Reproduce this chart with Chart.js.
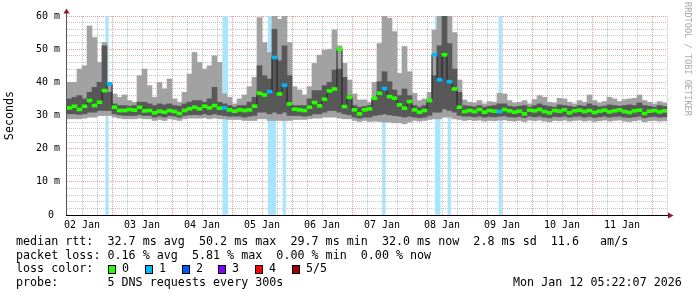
<!DOCTYPE html>
<html>
<head>
<meta charset="utf-8">
<script src="https://cdn.jsdelivr.net/npm/chart.js@4/dist/chart.umd.min.js"></script>
<style>
  html, body { margin: 0; padding: 0; background: #fff; }
  canvas { display: block; }
</style>
</head>
<body>
<canvas id="c" width="697" height="297"></canvas>
<script>
// 2 hour bins starting Jan 2 06:00, values in ms
const hi = [
  40, 40, 44, 45, 57, 53.5, 46, 52, 40, 36.5,
  35.5, 36.2, 34.5, 34, 42, 44, 39, 35.5, 40, 38,
  41, 35, 34, 37, 42.5, 49, 46, 44, 45, 48,
  46, 36.5, 35.5, 33.5, 35, 36.2, 38.7, 41.5, 59.5, 52,
  49, 60, 59, 60, 52, 38.7, 37.7, 36.2, 38.7, 45.7,
  48.2, 49.7, 50, 55.8, 51, 45.7, 40.7, 36.5, 34.7, 34.7,
  34, 40, 51.7, 60, 59.3, 55.3, 42.7, 50.8, 43.2, 36.7,
  34.5, 35, 37, 55.8, 60, 60, 60, 55, 40.7, 34.7,
  34, 33.8, 34.5, 33.5, 34.2, 34, 36.7, 36.5, 34.5, 33.8,
  34, 34.5, 33.5, 34.8, 36, 35.5, 34, 33.8, 35.2, 35,
  34, 33.5, 34.5, 34, 36.2, 34.5, 33.8, 34.2, 35.5, 35,
  34.2, 34.8, 35, 35.2, 36.2, 34.5, 34, 33.5, 34.2, 33.8
];
const q3 = [
  35, 35.5, 36, 35, 37, 38.5, 40, 51, 37, 33.5,
  33, 33, 32.8, 33, 34, 34, 33.5, 33, 33.5, 33.2,
  33.5, 33, 32.8, 33.5, 34, 34.5, 34.5, 34, 35, 38.5,
  34, 33.5, 33, 32.5, 33, 33, 34, 35.5, 45, 42,
  41, 56, 46.5, 51, 42, 33, 33, 33, 35, 37.5,
  37.5, 39, 40, 43.7, 44, 41.5, 36, 33, 32.5, 32.7,
  33, 35, 40.2, 43.2, 40.2, 37.7, 36, 38, 36, 33,
  32.5, 33, 34, 42, 51, 60, 51.7, 44, 37, 33,
  32.8, 32.6, 33, 32.5, 32.8, 33, 33.5, 33.5, 32.8, 32.6,
  32.8, 33, 32.5, 33, 33.5, 33, 32.7, 32.5, 33.2, 33,
  32.8, 32.5, 33, 32.8, 33.5, 33, 32.6, 32.8, 33.2, 33,
  32.8, 33, 33.2, 33, 33.8, 33, 32.8, 32.5, 33, 32.7
];
const med = [
  32.3, 32.8, 31.8, 32.8, 34.5, 33, 34, 37.5, 39.5, 32.5,
  31.5, 31.5, 31.8, 31.6, 32.5, 31.4, 31.5, 30.8, 31.3, 31,
  31.5, 31.2, 30.6, 31.5, 32, 32.5, 32, 32.8, 32.3, 33,
  32.2, 32.3, 31.7, 31.3, 31.7, 31.5, 31.7, 32.8, 36.7, 36.2,
  37.2, 47.5, 36.5, 39.1, 33.5, 31.9, 31.7, 31.5, 32.5, 33.9,
  32.9, 34.9, 37.4, 38, 50, 32.7, 35.5, 31.7, 30.5, 31.7,
  32, 35.2, 36.7, 38.1, 35.7, 35.2, 33.2, 32.2, 34.2, 31.7,
  31, 31.5, 34.5, 48.3, 40.8, 48.3, 40.2, 38, 32.5, 31.2,
  31.5, 31.2, 31.8, 31, 31.5, 31.3, 31.2, 31.8, 31.4, 31,
  31.3, 30.5, 31.6, 31.4, 31.8, 31.2, 30.8, 31.5, 31.3, 31.7,
  30.8, 31.4, 31.6, 31.2, 31.5, 30.9, 31.3, 31.6, 31.1, 31.4,
  31.7, 31.2, 30.9, 31.4, 31.6, 30.6, 31.3, 31.5, 31.1, 31.4
];
const q1 = [
  30.5, 30.5, 30.3, 30.5, 31, 31, 31.5, 31.5, 31.5, 30.5,
  30.2, 30, 30, 30, 30.3, 30, 30, 29.5, 29.8, 29.5,
  30, 29.8, 29.5, 30, 30.2, 30.3, 30.2, 30.5, 30.2, 30.5,
  30.2, 30, 29.8, 29.8, 29.8, 29.5, 29.8, 30, 31, 31,
  30.5, 31, 30.5, 31, 30, 30, 30, 29.8, 30, 30.5,
  30.5, 31, 31.5, 31.5, 31, 30.5, 30.2, 29.5, 29.2, 29.5,
  29.5, 30, 30.2, 30.5, 30.2, 30, 29.8, 29.5, 29.8, 29.5,
  29.3, 29.5, 30, 31, 31, 32, 31.5, 31, 30, 29.8,
  29.8, 29.6, 29.8, 29.5, 29.7, 29.6, 29.8, 29.9, 29.6, 29.5,
  29.7, 29.4, 29.8, 29.6, 29.8, 29.5, 29.3, 29.7, 29.6, 29.8,
  29.5, 29.7, 29.8, 29.5, 29.7, 29.4, 29.6, 29.8, 29.5, 29.7,
  29.8, 29.5, 29.4, 29.6, 29.8, 29.3, 29.6, 29.7, 29.5, 29.6
];
const lo = [
  29, 29, 29, 29.2, 29.5, 29.5, 30, 30, 30, 29.5,
  29.2, 29, 29, 29, 29.2, 29, 29, 28.5, 28.8, 28.5,
  29, 28.8, 28.5, 29, 29.2, 29.2, 29.2, 29.3, 29, 29.2,
  29, 29, 28.8, 28.8, 28.8, 28.5, 28.5, 28.5, 29, 29,
  28.5, 28.5, 28.5, 28.5, 28.5, 28.8, 28.8, 28.8, 29, 29.2,
  29.2, 29.5, 29.5, 29.5, 29.2, 29, 29, 28.5, 28.2, 28.5,
  28.2, 28.3, 28.2, 28, 28, 27.8, 27.8, 27.5, 28, 28.5,
  28.3, 28.5, 28.8, 29, 29, 29.5, 29.5, 29, 28.8, 28.5,
  28.7, 28.5, 28.6, 28.3, 28.5, 28.4, 28.6, 28.7, 28.4, 28.3,
  28.5, 28.2, 28.6, 28.4, 28.6, 28.3, 28.1, 28.5, 28.4, 28.6,
  28.3, 28.5, 28.6, 28.3, 28.5, 28.2, 28.4, 28.6, 28.3, 28.5,
  28.6, 28.3, 28.2, 28.4, 28.6, 28.1, 28.4, 28.5, 28.3, 28.4
];
// hours (from Jan 2 06:00) of probe rounds with packet loss
const lossTimes = [16, 62.8, 63.8, 81, 82, 83, 86.9, 126.8, 147.8, 148.8, 152.9, 173.3];
const dayLabels = ['02 Jan', '03 Jan', '04 Jan', '05 Jan', '06 Jan', '07 Jan', '08 Jan', '09 Jan', '10 Jan', '11 Jan'];
const lossColors = ['#26ff00', '#00b8ff', '#0059ff', '#7e00ff', '#ff0000', '#a10000'];
const lossNames = ['0', '1', '2', '3', '4', '5/5'];

const MONO = '"DejaVu Sans Mono", monospace';
const binHours = 2;
const xs = med.map((_, i) => i * binHours + binHours / 2);
const lossCount = med.map(() => 0);
lossTimes.forEach(t => lossCount[Math.floor(t / binHours)]++);
const medColor = lossCount.map(c => lossColors[Math.min(c, 1)]);

const xGrid = [];
for (let h = 6; h <= 240; h += 6) xGrid.push(h);
const yGrid = [];
for (let v = 0; v <= 60; v += 2) yGrid.push(v);

const minorGrid = 'rgba(110,110,110,0.4)';
const majorGrid = 'rgba(200,40,40,0.45)';

const extras = {
  id: 'extras',
  afterDraw(chart) {
    const ctx = chart.ctx;
    const a = chart.chartArea;
    ctx.save();
    // axes
    ctx.fillStyle = '#555';
    ctx.fillRect(a.left - 1, 13, 1, a.bottom - 13);
    ctx.fillStyle = '#000';
    ctx.fillRect(a.left - 1, a.bottom, a.right - a.left + 2, 1);
    // arrows
    ctx.fillStyle = '#8b1a1a';
    ctx.beginPath();
    ctx.moveTo(a.left - 0.5, 8.5);
    ctx.lineTo(a.left - 3.5, 13.5);
    ctx.lineTo(a.left + 2.5, 13.5);
    ctx.closePath();
    ctx.fill();
    ctx.beginPath();
    ctx.moveTo(a.right + 6.5, a.bottom + 0.5);
    ctx.lineTo(a.right + 1, a.bottom - 2.5);
    ctx.lineTo(a.right + 1, a.bottom + 3.5);
    ctx.closePath();
    ctx.fill();

    // legend / stats text
    ctx.fillStyle = '#000';
    ctx.font = '11.7px ' + MONO;
    ctx.textBaseline = 'middle';
    ctx.textAlign = 'left';
    ctx.fillText('median rtt:  32.7 ms avg  50.2 ms max  29.7 ms min  32.0 ms now  2.8 ms sd  11.6   am/s', 16, 241.5);
    ctx.fillText('packet loss: 0.16 % avg  5.81 % max  0.00 % min  0.00 % now', 16, 255.5);
    ctx.fillText('loss color:', 16, 269.3);
    ctx.fillText('probe:       5 DNS requests every 300s', 16, 283);
    ctx.fillText('Mon Jan 12 05:22:07 2026', 513, 283);
    lossColors.forEach((col, k) => {
      const bx = Math.round(108 + 36.8 * k);
      ctx.fillStyle = '#000';
      ctx.fillRect(bx, 265, 8, 9);
      ctx.fillStyle = col;
      ctx.fillRect(bx + 1, 266, 6, 7);
      ctx.fillStyle = '#000';
      ctx.fillText(lossNames[k], bx + 14, 269.3);
    });

    // watermark
    ctx.translate(687, 59);
    ctx.rotate(Math.PI / 2);
    ctx.font = '8.6px ' + MONO;
    ctx.fillStyle = '#aaaaaa';
    ctx.textAlign = 'center';
    ctx.fillText('RRDTOOL / TOBI OETIKER', 0, 0);
    ctx.restore();
  }
};

new Chart(document.getElementById('c'), {
  type: 'bar',
  data: {
    datasets: [
      {
        label: 'loss',
        data: lossTimes.map(t => ({ x: t, y: [0, 60] })),
        backgroundColor: '#a8e4fb',
        barThickness: 2.5,
        order: 5
      },
      {
        label: 'smoke outer',
        data: xs.map((x, i) => ({ x: x, y: [lo[i], hi[i]] })),
        backgroundColor: '#a2a2a2',
        barThickness: 5,
        order: 4
      },
      {
        label: 'smoke inner',
        data: xs.map((x, i) => ({ x: x, y: [q1[i], q3[i]] })),
        backgroundColor: '#585858',
        barThickness: 5,
        order: 3
      },
      {
        type: 'line',
        label: 'median line',
        data: xs.map((x, i) => ({ x: x, y: med[i] })),
        borderColor: '#202020',
        borderWidth: 1,
        pointRadius: 0,
        stepped: 'middle',
        order: 2
      },
      {
        label: 'median',
        data: xs.map((x, i) => ({ x: x, y: [med[i] - 0.45, med[i] + 0.45] })),
        backgroundColor: medColor,
        barThickness: 5,
        order: 1
      }
    ]
  },
  options: {
    responsive: false,
    animation: false,
    events: [],
    layout: { padding: { left: 0, top: 16, right: 30, bottom: 0 } },
    plugins: { legend: { display: false }, tooltip: { enabled: false } },
    datasets: { bar: { grouped: false, borderWidth: 0 } },
    scales: {
      x: {
        type: 'linear',
        min: 0,
        max: 240,
        offset: false,
        grid: {
          offset: false,
          drawTicks: false,
          lineWidth: 1,
          color: c => (c.tick && (c.tick.value - 18) % 24 === 0) ? majorGrid : minorGrid
        },
        border: { display: false, dash: [1, 1] },
        ticks: {
          autoSkip: false,
          maxRotation: 0,
          minRotation: 0,
          padding: 4,
          color: '#000',
          font: { family: MONO, size: 10 },
          callback: v => {
            const k = (v - 6) / 24;
            return Number.isInteger(k) ? dayLabels[k] : '';
          }
        },
        afterBuildTicks: s => { s.ticks = xGrid.map(v => ({ value: v })); },
        afterFit: s => { s.height = 82; }
      },
      y: {
        min: 0,
        max: 60,
        grid: {
          drawTicks: false,
          lineWidth: 1,
          color: c => {
            if (!c.tick || c.tick.value === 0) return 'rgba(0,0,0,0)';
            return c.tick.value % 10 === 0 ? majorGrid : minorGrid;
          }
        },
        border: { display: false, dash: [1, 1] },
        ticks: {
          autoSkip: false,
          padding: 7,
          color: '#000',
          font: { family: MONO, size: 10 },
          callback: v => v === 0 ? '0 ' : (v % 10 === 0 ? v + ' m' : '')
        },
        title: {
          display: true,
          text: 'Seconds',
          color: '#000',
          font: { family: MONO, size: 11.7 },
          padding: { top: 3, bottom: 0 }
        },
        afterBuildTicks: s => { s.ticks = yGrid.map(v => ({ value: v })); },
        afterFit: s => { s.width = 67; }
      }
    }
  },
  plugins: [extras]
});
</script>
</body>
</html>
